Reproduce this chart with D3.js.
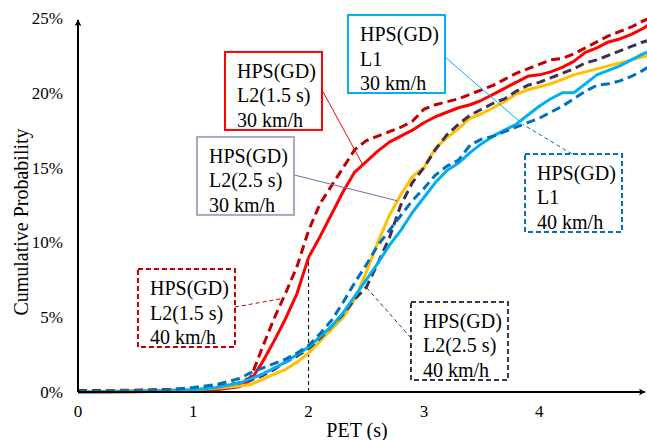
<!DOCTYPE html>
<html>
<head>
<meta charset="utf-8">
<script src="https://cdn.jsdelivr.net/npm/d3@7"></script>
<style>
  body { margin: 0; background: #fff; }
  svg text { font-family: "Liberation Serif", "Times New Roman", Times, "DejaVu Serif", serif; }
</style>
</head>
<body>
<div id="chart"></div>
<script>
// PET grid (s) shared by every curve
const pet = [0, 0.25, 0.5, 0.75, 1.0, 1.2, 1.4, 1.5, 1.6, 1.7, 1.8, 1.9, 2.0, 2.1, 2.2, 2.3, 2.4, 2.5,
  2.6, 2.7, 2.8, 2.9, 3.0, 3.1, 3.2, 3.3, 3.4, 3.5, 3.6, 3.7, 3.8, 3.9, 4.0, 4.1, 4.2, 4.3, 4.4, 4.5,
  4.6, 4.7, 4.8, 4.9, 5.0];

// cumulative probability (%) per series
const l2_15_30 = [0, 0, 0.02, 0.05, 0.1, 0.15, 0.35, 0.8, 2.0, 3.4, 4.9, 6.6, 9.0, 10.4, 11.9, 13.4, 14.7, 15.4,
  16.1, 16.7, 17.1, 17.5, 18.0, 18.4, 18.7, 19.0, 19.2, 19.5, 19.9, 20.3, 20.7, 21.1, 21.2, 21.4, 21.7, 22.1, 22.7, 23.0,
  23.4, 23.6, 23.9, 24.3, 24.8];
const l2_15_40 = [0.1, 0.1, 0.12, 0.15, 0.2, 0.3, 0.6, 1.0, 3.0, 4.9, 6.6, 8.4, 10.8, 12.6, 13.8, 15.0, 16.2, 16.8,
  17.1, 17.4, 17.7, 18.1, 18.9, 19.2, 19.4, 19.6, 19.9, 20.2, 20.5, 20.9, 21.3, 21.6, 21.9, 22.2, 22.3, 22.6, 23.0, 23.4,
  23.8, 24.1, 24.4, 24.8, 25.1];
const l2_25_30 = [0, 0.05, 0.1, 0.12, 0.15, 0.25, 0.4, 0.5, 0.85, 1.2, 1.5, 2.0, 2.6, 3.4, 4.2, 5.0, 6.2, 8.0,
  10.0, 11.8, 13.2, 14.4, 15.0, 16.3, 17.0, 17.6, 18.3, 18.6, 19.0, 19.4, 19.9, 20.2, 20.4, 20.6, 20.9, 21.2, 21.4, 21.6,
  21.8, 22.0, 22.2, 22.4, 22.6];
const l2_25_40 = [0.05, 0.05, 0.1, 0.15, 0.25, 0.4, 0.6, 0.8, 1.1, 1.5, 2.0, 2.4, 2.9, 3.6, 4.4, 5.2, 6.2, 7.0,
  8.6, 10.3, 12.5, 14.0, 15.0, 16.2, 17.2, 17.9, 18.5, 18.9, 19.3, 19.6, 20.1, 20.5, 20.7, 21.0, 21.3, 21.6, 22.0, 22.2,
  22.5, 22.8, 23.1, 23.4, 23.6];
const l1_30 = [0, 0.03, 0.05, 0.1, 0.15, 0.3, 0.6, 0.9, 1.2, 1.6, 2.0, 2.5, 3.0, 3.7, 4.4, 5.3, 6.4, 7.5,
  8.6, 9.8, 10.8, 12.0, 13.0, 14.0, 14.8, 15.3, 16.0, 16.6, 17.1, 17.5, 17.9, 18.5, 19.1, 19.6, 20.0, 20.0, 20.6, 21.2,
  21.5, 21.8, 22.2, 22.6, 22.9];
const l1_40 = [0.05, 0.05, 0.08, 0.12, 0.3, 0.5, 0.9, 1.3, 1.6, 1.9, 2.2, 2.6, 3.1, 3.9, 4.8, 6.0, 7.3, 8.5,
  9.8, 10.8, 11.8, 12.8, 13.6, 14.5, 15.1, 15.5, 16.5, 16.9, 17.1, 17.4, 17.7, 18.0, 18.3, 18.7, 19.1, 19.6, 20.1, 20.5,
  20.6, 20.8, 21.1, 21.5, 22.0];

const xTicks = [0, 1, 2, 3, 4];
const yTicks = [0, 5, 10, 15, 20, 25];

// series: values, colour, dashed?, label lines, box corner (pet, %), leader anchor pet
const series = [
  { vals: l2_15_30, color: "#ff0000", dash: false, lines: ["HPS(GD)", "L2(1.5 s)", "30 km/h"], box: [1.275, 22.73], border: "#ff0000", lead: "#ff0000", side: "right", at: 2.47 },
  { vals: l2_15_40, color: "#c00000", dash: true, lines: ["HPS(GD)", "L2(1.5 s)", "40 km/h"], box: [0.52, 8.22], border: "#c00000", lead: "#c00000", side: "right", at: 1.78 },
  { vals: l2_25_30, color: "#ffc000", dash: false, lines: ["HPS(GD)", "L2(2.5 s)", "30 km/h"], box: [1.032, 17.05], border: "#b3a2c7", lead: "#8064a2", side: "right", at: 2.77 },
  { vals: l2_25_40, color: "#403152", dash: true, lines: ["HPS(GD)", "L2(2.5 s)", "40 km/h"], box: [2.888, 6.02], border: "#403152", lead: "#403152", side: "left", at: 2.5 },
  { vals: l1_30, color: "#00b0f0", dash: false, lines: ["HPS(GD)", "L1", "30 km/h"], box: [2.342, 25.2], border: "#00b0f0", lead: "#00b0f0", side: "right", at: 3.83 },
  { vals: l1_40, color: "#0070c0", dash: true, lines: ["HPS(GD)", "L1", "40 km/h"], box: [3.877, 15.91], border: "#0070c0", lead: "#0070c0", side: "top", at: 3.86 }
];

const width = 647, height = 440;
const serif = "'Liberation Serif', 'Times New Roman', Times, serif";
const x = d3.scaleLinear().domain([0, 5]).range([78, 654.5]);
const y = d3.scaleLinear().domain([0, 25]).range([392, 18]);

const svg = d3.select("#chart").append("svg")
  .attr("width", width)
  .attr("height", height)
  .attr("font-family", serif);

svg.append("defs").append("marker")
  .attr("id", "arrow")
  .attr("viewBox", "0 0 10 10")
  .attr("refX", 9).attr("refY", 5)
  .attr("markerWidth", 7).attr("markerHeight", 7)
  .attr("markerUnits", "userSpaceOnUse")
  .attr("orient", "auto")
  .append("path")
  .attr("d", "M0,0 L10,5 L0,10 L3,5 Z")
  .attr("fill", "#000");

// interpolate a series value at a given pet
function valueAt(vals, t) {
  const i = d3.bisectRight(pet, t) - 1;
  if (i >= pet.length - 1) return vals[vals.length - 1];
  const k = (t - pet[i]) / (pet[i + 1] - pet[i]);
  return vals[i] + k * (vals[i + 1] - vals[i]);
}

//Dashed reference line at PET = 2 s
svg.append("line")
  .attr("x1", x(2)).attr("x2", x(2))
  .attr("y1", y(0)).attr("y2", y(valueAt(l2_15_30, 2)))
  .attr("stroke", "#000")
  .attr("stroke-width", 1)
  .attr("stroke-dasharray", "4,3");

//Curves
const line = d3.line()
  .x((d, i) => x(pet[i]))
  .y(d => y(d));

series.forEach(s => {
  svg.append("path")
    .datum(s.vals)
    .attr("d", line)
    .attr("fill", "none")
    .attr("stroke", s.color)
    .attr("stroke-width", 3)
    .attr("stroke-linejoin", "round")
    .attr("stroke-dasharray", s.dash ? "9,5" : null);
});

//Axes
svg.append("line")
  .attr("x1", x(0)).attr("y1", y(0))
  .attr("x2", 645).attr("y2", y(0))
  .attr("stroke", "#000").attr("stroke-width", 2)
  .attr("marker-end", "url(#arrow)");
svg.append("line")
  .attr("x1", x(0)).attr("y1", y(0))
  .attr("x2", x(0)).attr("y2", y(25) + 2)
  .attr("stroke", "#000").attr("stroke-width", 2)
  .attr("marker-end", "url(#arrow)");

svg.selectAll(".xt").data(xTicks).enter().append("text")
  .attr("x", d => x(d))
  .attr("y", 417)
  .attr("text-anchor", "middle")
  .attr("font-family", serif)
  .attr("font-size", 17)
  .text(d => d);

svg.selectAll(".yt").data(yTicks).enter().append("text")
  .attr("x", 63)
  .attr("y", d => y(d) + 6)
  .attr("text-anchor", "end")
  .attr("font-family", serif)
  .attr("font-size", 17)
  .text(d => d + "%");

svg.append("text")
  .attr("x", 357).attr("y", 437)
  .attr("text-anchor", "middle")
  .attr("font-family", serif)
  .attr("font-size", 20)
  .text("PET (s)");

svg.append("text")
  .attr("transform", "translate(28,222) rotate(-90)")
  .attr("text-anchor", "middle")
  .attr("font-family", serif)
  .attr("font-size", 20)
  .text("Cumulative Probability");

//Label boxes and leader lines
const boxW = 97, boxH = 78;
series.forEach(s => {
  const bx = x(s.box[0]), by = y(s.box[1]);
  const ax = x(s.at), ay = y(valueAt(s.vals, s.at));
  let sx, sy;
  if (s.side === "right") { sx = bx + boxW; sy = by + (s.lines[1] === "L1" ? 42 : 38); }
  else if (s.side === "left") { sx = bx; sy = by + 36; }
  else { sx = bx + 47; sy = by; }

  svg.append("line")
    .attr("x1", sx).attr("y1", sy)
    .attr("x2", ax).attr("y2", ay)
    .attr("stroke", s.lead)
    .attr("stroke-width", 1)
    .attr("stroke-dasharray", s.dash ? "4,3" : null);

  const g = svg.append("g").attr("transform", `translate(${bx},${by})`);
  g.append("rect")
    .attr("width", boxW).attr("height", boxH)
    .attr("fill", "#fff")
    .attr("stroke", s.border)
    .attr("stroke-width", 2)
    .attr("stroke-dasharray", s.dash ? "5,3" : null);
  g.selectAll("text").data(s.lines).enter().append("text")
    .attr("x", 12)
    .attr("y", (d, i) => 26 + i * 24.5)
    .attr("font-family", serif)
    .attr("font-size", 20)
    .text(d => d);
});
</script>
</body>
</html>
